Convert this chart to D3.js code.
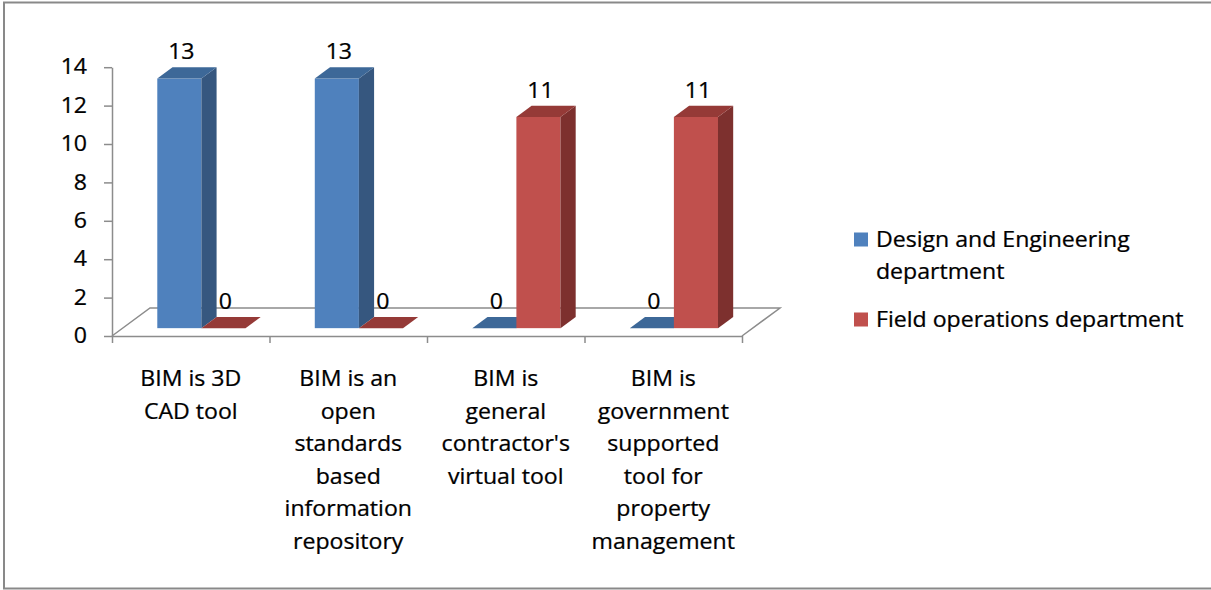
<!DOCTYPE html>
<html>
<head>
<meta charset="utf-8">
<script src="https://cdn.jsdelivr.net/npm/d3@7"></script>
<style>
  body { margin: 0; background: #fff; }
  svg text { font-family: "Open Sans", sans-serif; font-size: 21px; fill: #000; stroke: #000; stroke-width: 0.25px; }
</style>
</head>
<body>
<div id="visual-container"></div>
<script>
const categories = ["BIM is 3D CAD tool", "BIM is an open standards based information repository",
  "BIM is general contractor's virtual tool", "BIM is government supported tool for property management"]
const categoryLines = [
  ["BIM is 3D", "CAD tool"],
  ["BIM is an", "open", "standards", "based", "information", "repository"],
  ["BIM is", "general", "contractor's", "virtual tool"],
  ["BIM is", "government", "supported", "tool for", "property", "management"]
]
const seriesNames = ["Design and Engineering department", "Field operations department"]
const designValues = [13, 13, 0, 0]
const fieldValues = [0, 0, 11, 11]
const yTicks = [0, 2, 4, 6, 8, 10, 12, 14]

const width = 1211
const height = 590
const stretch = 1.1
// floor depth vector and bar placement along it
const DX = 38, DY = -28
const f1 = 0.28, f2 = 0.68

const colors = [
  { front: '#4F81BD', top: '#3D6898', side: '#36577F' },
  { front: '#C0504D', top: '#953A37', side: '#7D302E' }
]

const svg = d3.select('#visual-container').append('svg')
  .attr('width', width).attr('height', height)

svg.append('rect')
  .attr('x', 4).attr('y', 2.5).attr('width', 1215).attr('height', 586)
  .attr('fill', 'none').attr('stroke', '#898989').attr('stroke-width', 2)

const xBand = d3.scaleBand().domain(categories).range([112, 742])
  .paddingInner(0.44).paddingOuter(0.22)
const xSeries = d3.scaleBand().domain([0, 1]).range([0, xBand.bandwidth()])
const xEdge = d3.scaleLinear().domain([0, categories.length]).range([112, 742])
const yScale = d3.scaleLinear().domain([0, 14]).range([336, 67.2])

const placeText = (sel, x, y) => sel.attr('transform', `translate(${x},${y}) scale(${stretch},1)`)

// floor
const y0 = yScale(0)
const floor = svg.append('g').attr('stroke', '#8C8C8C').attr('stroke-width', 1.5).attr('fill', 'none')
floor.append('path').attr('d',
  `M${xEdge(0)},${y0}L${xEdge(0) + DX},${y0 + DY}L${xEdge(4) + DX},${y0 + DY}L${xEdge(4)},${y0}`)

// category axis
const xAxis = d3.axisBottom(xEdge).tickValues(d3.range(0, categories.length + 1))
  .tickFormat('').tickSize(7).tickSizeOuter(0)
const gx = svg.append('g').attr('transform', `translate(0,${y0})`).call(xAxis)
gx.selectAll('path, line').attr('stroke', '#8C8C8C').attr('stroke-width', 1.5)

categories.forEach((c, i) => {
  const cx = (xEdge(i) + xEdge(i + 1)) / 2
  categoryLines[i].forEach((line, j) => {
    svg.append('text').attr('text-anchor', 'middle').text(line)
      .call(placeText, cx, 386 + j * 32.5)
  })
})

// value axis
const yAxis = d3.axisLeft(yScale).tickValues(yTicks).tickSize(8).tickPadding(14.7).tickSizeOuter(0)
const gy = svg.append('g').attr('transform', 'translate(112,0)').call(yAxis)
gy.selectAll('path, line').attr('stroke', '#8C8C8C').attr('stroke-width', 1.5)
gy.selectAll('text').attr('font-size', null).attr('font-family', null)
  .attr('transform', `scale(${stretch},1)`)

// bars
const seriesValues = [designValues, fieldValues]
const bars = []
categories.forEach((c, i) => {
  seriesValues.forEach((vals, s) => bars.push({ cat: c, s, v: vals[i] }))
})

const barG = svg.append('g')
bars.forEach(d => {
  const w = xSeries.bandwidth()
  const x0 = xBand(d.cat) + xSeries(d.s) + f1 * DX
  const yb = yScale(0) + f1 * DY
  const yt = yScale(d.v) + f1 * DY
  const ddx = (f2 - f1) * DX, ddy = (f2 - f1) * DY
  const col = colors[d.s]
  const g = barG.append('g')
  if (d.v > 0) {
    g.append('rect').attr('x', x0).attr('y', yt).attr('width', w).attr('height', yb - yt)
      .attr('fill', col.front)
    g.append('path').attr('fill', col.side)
      .attr('d', `M${x0 + w},${yt}L${x0 + w + ddx},${yt + ddy}L${x0 + w + ddx},${yb + ddy}L${x0 + w},${yb}Z`)
  }
  g.append('path').attr('fill', col.top)
    .attr('d', `M${x0},${yt}L${x0 + w},${yt}L${x0 + w + ddx},${yt + ddy}L${x0 + ddx},${yt + ddy}Z`)
  svg.append('text').attr('text-anchor', 'middle').text(d.v)
    .call(placeText, x0 + w / 2 + 2, yt + ddy - 8)
})

// legend
const legend = svg.append('g')
const legendRows = [
  { s: 0, lines: ["Design and Engineering", "department"], y: 247 },
  { s: 1, lines: ["Field operations department"], y: 327 }
]
legendRows.forEach(r => {
  legend.append('rect').attr('x', 854).attr('y', r.y - 14.5).attr('width', 14).attr('height', 14)
    .attr('fill', colors[r.s].front)
  r.lines.forEach((line, j) => {
    legend.append('text').attr('text-anchor', 'start').text(line)
      .call(placeText, 876, r.y + j * 31.5)
  })
})
</script>
</body>
</html>
